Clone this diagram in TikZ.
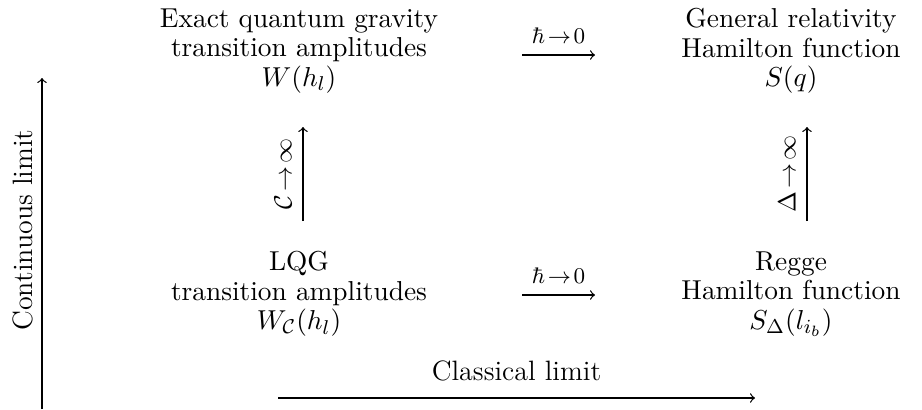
\documentclass[tikz,border=0pt]{standalone}
\usepackage{amsmath}
\begin{document}
\begin{tikzpicture}[x=0.4pt, y=0.4pt, >=to]
  \tikzset{box/.style={align=center, inner sep=0pt, font=\fontsize{10.95}{11.8}\selectfont},
           lim/.style={->, line width=0.5pt},
           axislabel/.style={font=\fontsize{11.2}{13.5}\selectfont}}
  \useasboundingbox (0,0) rectangle (922,409);
  % the four corners of the square
  \node[box] (qg) at (299,358) {Exact quantum gravity\\transition amplitudes\\$W(h_l)$};
  \node[box] (gr) at (791,358) {General relativity\\Hamilton function\\$S(q)$};
  \node[box] (lqg) at (299,115) {LQG\\transition amplitudes\\$W_{\mathcal{C}}(h_l)$};
  \node[box] (regge) at (791,115) {Regge\\Hamilton function\\$S_\Delta(l_{i_b})$};
  % arrow end points
  \coordinate (qgR) at (522,354);  \coordinate (grL) at (595,354);
  \coordinate (lqgR) at (522,114); \coordinate (reggeL) at (595,114);
  \coordinate (lqgU) at (303,188); \coordinate (qgD) at (303,282);
  \coordinate (reggeU) at (807,188); \coordinate (grD) at (807,282);
  % classical limit (hbar -> 0)
  \draw[lim] (qgR) -- node[above=1pt, font=\small] {$\hbar\!\to\!0$} (grL);
  \draw[lim] (lqgR) -- node[above=1pt, font=\small] {$\hbar\!\to\!0$} (reggeL);
  % continuum limit
  \draw[lim] (lqgU) -- node[rotate=90, anchor=south, yshift=1pt] {$\mathcal{C}\!\to\!\infty$} (qgD);
  \draw[lim] (reggeU) -- node[rotate=90, anchor=south, yshift=1pt] {$\Delta\!\to\!\infty$} (grD);
  % axes
  \coordinate (yA) at (42,0);  \coordinate (yB) at (42,331);
  \coordinate (xA) at (278,11); \coordinate (xB) at (755,11);
  \draw[lim] (yA) -- (yB);
  \node[axislabel, rotate=90] (cont) at (23,179) {Continuous limit};
  \draw[lim] (xA) -- node[axislabel, above=3pt] (class) {Classical limit} (xB);
\end{tikzpicture}
\end{document}
